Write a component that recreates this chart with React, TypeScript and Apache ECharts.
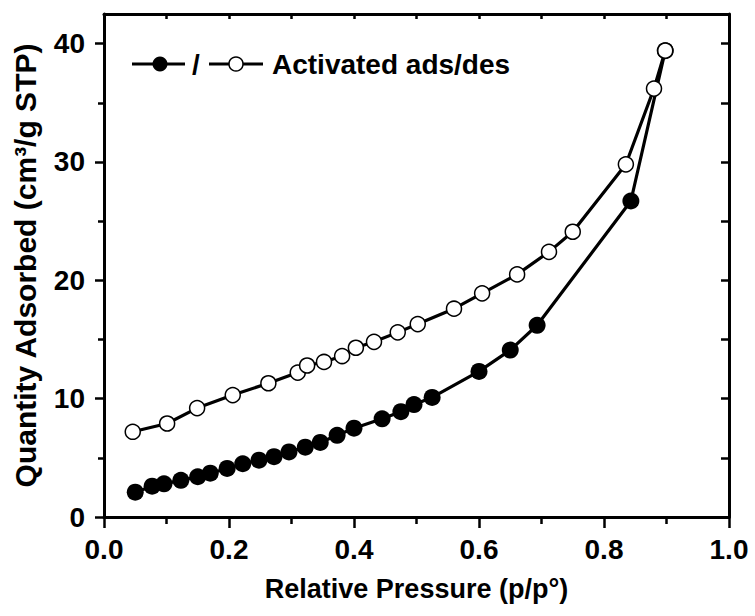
import React, { useEffect, useRef } from "react";
import * as echarts from "echarts";

// Nitrogen isotherm of the activated sample: adsorption (filled) and desorption (open) branches
const adsPressure = [0.05, 0.077, 0.096, 0.123, 0.15, 0.17, 0.197, 0.222, 0.248, 0.272, 0.296, 0.322, 0.346, 0.373, 0.4, 0.445, 0.475, 0.496, 0.525, 0.6, 0.65, 0.693, 0.843, 0.898];
const adsQuantity = [2.1, 2.6, 2.8, 3.1, 3.4, 3.7, 4.1, 4.5, 4.8, 5.1, 5.5, 5.9, 6.3, 6.9, 7.5, 8.3, 8.9, 9.5, 10.1, 12.3, 14.1, 16.2, 26.7, 39.4];

const desPressure = [0.046, 0.101, 0.149, 0.206, 0.263, 0.31, 0.325, 0.352, 0.381, 0.403, 0.432, 0.47, 0.502, 0.56, 0.605, 0.661, 0.712, 0.75, 0.835, 0.88, 0.898];
const desQuantity = [7.2, 7.9, 9.2, 10.3, 11.3, 12.2, 12.8, 13.1, 13.6, 14.3, 14.8, 15.6, 16.3, 17.6, 18.9, 20.5, 22.4, 24.1, 29.8, 36.2, 39.4];

const yLabelValues = [0, 10, 20, 30, 40];
const yMinorValues = [5, 15, 25, 35];
const yAllValues = [0, 5, 10, 15, 20, 25, 30, 35, 40];

const FONT = '"Liberation Sans", Arial, sans-serif';
const INK = "#000";

export default function App() {
  const ref = useRef<HTMLDivElement>(null);

  useEffect(() => {
    if (!ref.current) return;
    const chart = echarts.init(ref.current, null, { renderer: "svg" });

    const ads = adsPressure.map((p, i) => [p, adsQuantity[i]]);
    const des = desPressure.map((p, i) => [p, desQuantity[i]]);

    const tickStyle = { color: INK, width: 2.5 };
    const hidden = { show: false };
    const legendY = 64;

    chart.setOption({
      animation: false,
      backgroundColor: "#fff",
      grid: { left: 104, right: 26, top: 14, bottom: 99, containLabel: false },
      xAxis: [
        {
          type: "value",
          position: "bottom",
          min: 0,
          max: 1,
          interval: 0.2,
          splitLine: hidden,
          axisLine: { show: true, onZero: false, lineStyle: { color: INK, width: 3 } },
          axisTick: { show: true, inside: false, length: 11, lineStyle: tickStyle },
          minorTick: { show: true, splitNumber: 2, length: 7, lineStyle: tickStyle },
          axisLabel: {
            color: INK,
            fontFamily: FONT,
            fontWeight: "bold",
            fontSize: 28,
            margin: 18,
            formatter: (v: number) => v.toFixed(1),
          },
          name: "Relative Pressure (p/p°)",
          nameLocation: "middle",
          nameGap: 58,
          nameTextStyle: { color: INK, fontFamily: FONT, fontWeight: "bold", fontSize: 27 },
        },
        {
          type: "value",
          position: "top",
          min: 0,
          max: 1,
          interval: 0.1,
          splitLine: hidden,
          axisLine: { show: true, onZero: false, lineStyle: { color: INK, width: 3 } },
          axisTick: { show: true, inside: true, length: 5, lineStyle: tickStyle },
          axisLabel: hidden,
        },
      ],
      yAxis: [
        {
          type: "value",
          position: "left",
          min: 0,
          max: 42.5,
          splitLine: hidden,
          axisLine: { show: true, onZero: false, lineStyle: { color: INK, width: 3 } },
          axisTick: { show: true, inside: false, length: 9, lineStyle: tickStyle, customValues: yLabelValues },
          axisLabel: {
            color: INK,
            fontFamily: FONT,
            fontWeight: "bold",
            fontSize: 28,
            margin: 19,
            customValues: yLabelValues,
          },
          name: "Quantity Adsorbed (cm³/g STP)",
          nameLocation: "middle",
          nameRotate: 90,
          nameGap: 64,
          nameTextStyle: { color: INK, fontFamily: FONT, fontWeight: "bold", fontSize: 30 },
        },
        {
          type: "value",
          position: "left",
          min: 0,
          max: 42.5,
          splitLine: hidden,
          axisLine: hidden,
          axisTick: { show: true, inside: false, length: 6, lineStyle: tickStyle, customValues: yMinorValues },
          axisLabel: hidden,
        },
        {
          type: "value",
          position: "right",
          min: 0,
          max: 42.5,
          splitLine: hidden,
          axisLine: { show: true, onZero: false, lineStyle: { color: INK, width: 3 } },
          axisTick: { show: true, inside: true, length: 8, lineStyle: tickStyle, customValues: yAllValues },
          axisLabel: hidden,
        },
      ],
      series: [
        {
          name: "ads",
          type: "line",
          data: ads,
          symbol: "circle",
          symbolSize: 17,
          lineStyle: { color: INK, width: 3.2 },
          itemStyle: { color: INK, borderColor: INK, borderWidth: 0 },
          z: 2,
        },
        {
          name: "des",
          type: "line",
          data: des,
          symbol: "circle",
          symbolSize: 15,
          lineStyle: { color: INK, width: 3.2 },
          itemStyle: { color: "#fff", borderColor: INK, borderWidth: 1.5 },
          z: 3,
        },
      ],
      graphic: [
        { type: "line", shape: { x1: 132, y1: legendY, x2: 185, y2: legendY }, style: { stroke: INK, lineWidth: 3 } },
        { type: "circle", shape: { cx: 160, cy: legendY, r: 7.5 }, style: { fill: INK } },
        {
          type: "text",
          x: 192,
          y: legendY,
          style: { text: "/", fill: INK, font: `bold 28px ${FONT}`, verticalAlign: "middle" },
        },
        { type: "line", shape: { x1: 209, y1: legendY, x2: 263, y2: legendY }, style: { stroke: INK, lineWidth: 3 } },
        { type: "circle", shape: { cx: 236, cy: legendY, r: 7 }, style: { fill: "#fff", stroke: INK, lineWidth: 1.5 } },
        {
          type: "text",
          x: 272,
          y: legendY,
          style: { text: "Activated ads/des", fill: INK, font: `bold 28px ${FONT}`, verticalAlign: "middle" },
        },
      ],
    });

    return () => chart.dispose();
  }, []);

  return (
    <div
      ref={ref}
      style={{ position: "absolute", left: 0, top: 0, width: 755, height: 616 }}
    />
  );
}
